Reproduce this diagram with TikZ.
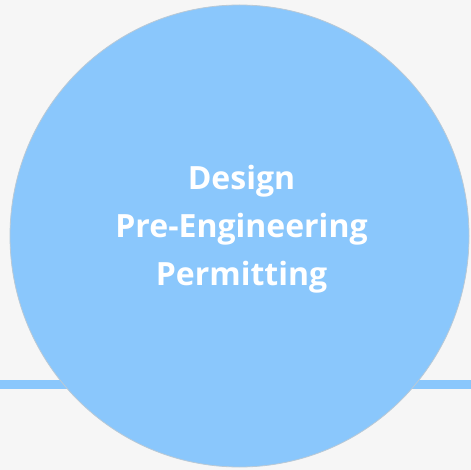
\documentclass[tikz,border=0pt]{standalone}
\usepackage{fontspec}
\setmainfont{Open Sans}
\definecolor{bg}{HTML}{F6F6F6}
\definecolor{blue}{HTML}{8AC7FC}
\definecolor{rim}{HTML}{B9C9D6}
\tikzset{
  lbl/.style={text=white, font=\fontsize{32}{48}\selectfont\bfseries, inner sep=0pt, anchor=base},
  band/.style={draw=blue, line width=9pt}
}
\begin{document}
\begin{tikzpicture}[x=1pt,y=-1pt]
\useasboundingbox[fill=bg] (0,0) rectangle (471,470);
\coordinate (l) at (0,384.5);
\coordinate (r) at (471,384.5);
\draw[band] (l) -- (r);
\fill[blue] (239.5,236) ellipse [x radius=229.5, y radius=231];
\draw[rim, line width=0.8pt] (239.5,236) ellipse [x radius=229.5, y radius=231];
\node[lbl] (t1) at (241.5,190) {Design};
\node[lbl] (t2) at (241.5,238) {Pre-Engineering};
\node[lbl] (t3) at (241.5,286) {Permitting};
\end{tikzpicture}
\end{document}
